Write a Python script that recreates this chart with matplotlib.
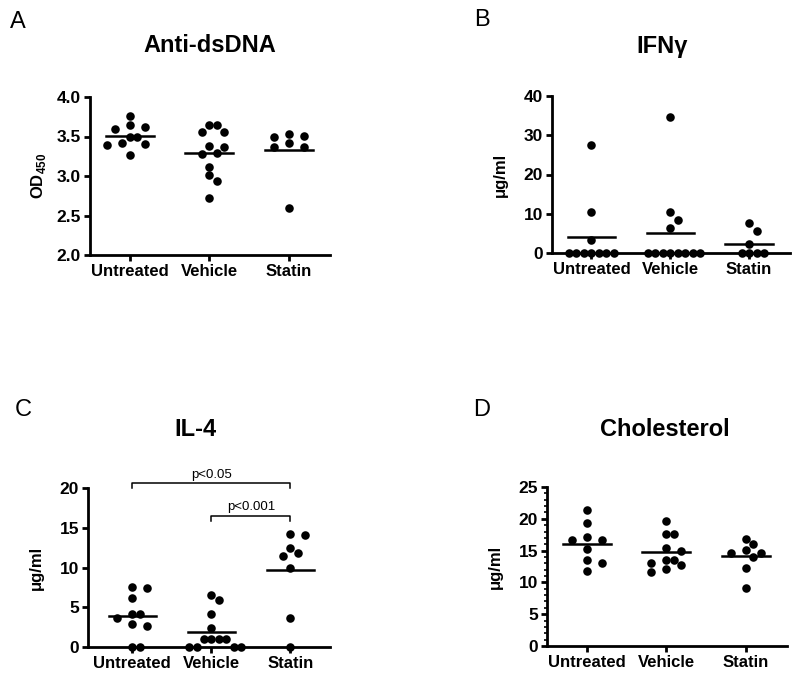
import numpy as np
import matplotlib.pyplot as plt
from matplotlib.ticker import MultipleLocator

plt.rcParams['font.family'] = ['Liberation Sans', 'DejaVu Sans']
plt.rcParams['font.weight'] = 'bold'
plt.rcParams['mathtext.fontset'] = 'custom'
plt.rcParams['mathtext.bf'] = 'Liberation Sans:bold'
plt.rcParams['mathtext.rm'] = 'Liberation Sans:bold'

groups = ['Untreated', 'Vehicle', 'Statin']

# A: anti-dsDNA (OD450)
dsdna_untreated = [3.76, 3.60, 3.62, 3.65, 3.49, 3.49, 3.42, 3.41, 3.39, 3.27]
dsdna_vehicle = [3.65, 3.65, 3.56, 3.56, 3.38, 3.37, 3.29, 3.28, 3.12, 3.01, 2.94, 2.72]
dsdna_statin = [3.50, 3.53, 3.51, 3.42, 3.37, 3.37, 2.60]

# B: IFN-gamma (ug/ml)
ifng_untreated = [27.4, 10.5, 3.2, 0, 0, 0, 0, 0, 0, 0]
ifng_vehicle = [34.7, 10.5, 8.5, 6.4, 0, 0, 0, 0, 0, 0, 0, 0]
ifng_statin = [7.6, 5.5, 2.2, 0, 0, 0, 0]

# C: IL-4 (ug/ml)
il4_untreated = [7.5, 7.4, 6.2, 4.2, 4.2, 3.7, 2.9, 2.6, 0, 0]
il4_vehicle = [6.6, 5.9, 4.1, 2.4, 1.05, 1.05, 1.05, 1.05, 0, 0, 0, 0]
il4_statin = [14.1, 14.2, 12.4, 11.8, 11.5, 10.0, 3.6, 0]

# D: cholesterol (ug/ml)
chol_untreated = [21.4, 19.4, 17.1, 16.7, 16.6, 15.2, 13.6, 13.1, 11.8]
chol_vehicle = [19.7, 17.6, 17.6, 15.4, 15.0, 13.6, 13.6, 13.1, 12.8, 12.1, 11.7]
chol_statin = [16.8, 16.1, 15.1, 14.7, 14.7, 14.0, 12.2, 9.1]

W, H = 800, 679
fig = plt.figure(figsize=(W / 100, H / 100), dpi=100)


def px_axes(left, top, right, bottom):
    return fig.add_axes([left / W, 1 - bottom / H, (right - left) / W, (bottom - top) / H])


def swarm_x(values, center, ppx, ppy, step=7.5, diam=8.5):
    # simple greedy beeswarm in pixel space; equal values just sit side by side
    values = np.asarray(values, dtype=float)
    xs = np.zeros(len(values))
    placed = []
    offsets = [0]
    for k in range(1, 10):
        offsets += [k, -k]
    for i in np.argsort(-values):
        y = values[i] * ppy
        for k in offsets:
            x = k * step
            ok = True
            for px, py in placed:
                d2 = (x - px) ** 2 + (y - py) ** 2
                lim = step * 0.98 if abs(y - py) < 0.5 else diam
                if d2 < lim ** 2:
                    ok = False
                    break
            if ok:
                break
        placed.append((x, y))
        xs[i] = center + x / ppx
    return xs


def panel(box, data, ylim, yticks, ylabel, minor=None):
    ax = px_axes(*box)
    left, top, right, bottom = box
    xlim = (-0.5, 2.52)
    ax.set_xlim(*xlim)
    ax.set_ylim(*ylim)
    ppx = (right - left) / (xlim[1] - xlim[0])
    ppy = (bottom - top) / (ylim[1] - ylim[0])
    for i, vals in enumerate(data):
        xs = swarm_x(np.array(vals) - ylim[0], i, ppx, ppy)
        ax.scatter(xs, vals, s=38, color='black', zorder=3, clip_on=False, linewidths=0)
        m = np.mean(vals)
        ax.plot([i - 0.3, i + 0.3], [m, m], color='black', lw=1.8, zorder=4, clip_on=False)
    for s in ['top', 'right']:
        ax.spines[s].set_visible(False)
    for s in ['left', 'bottom']:
        ax.spines[s].set_linewidth(2.0)
    ax.set_xticks(range(3))
    ax.set_xticklabels(groups, fontsize=12, fontweight='bold')
    ax.set_yticks(yticks)
    ax.tick_params(axis='x', which='major', length=4.5, width=2.0, labelsize=12, pad=2)
    ax.tick_params(axis='y', which='major', length=4.5, width=2.0, labelsize=12.5, pad=2)
    if minor:
        ax.yaxis.set_minor_locator(MultipleLocator(minor))
        ax.tick_params(axis='y', which='minor', length=2.5, width=1.2)
    ax.text(-0.215, 0.5, ylabel, transform=ax.transAxes, rotation=90,
            ha='center', va='center', fontsize=12, fontweight='bold')
    return ax


axA = panel((90, 97, 330, 255), [dsdna_untreated, dsdna_vehicle, dsdna_statin],
            (2.0, 4.0), [2.0, 2.5, 3.0, 3.5, 4.0], r'OD$_{\mathbf{450}}$')
axA.set_yticklabels(['2.0', '2.5', '3.0', '3.5', '4.0'])

axB = panel((552, 96, 790, 253), [ifng_untreated, ifng_vehicle, ifng_statin],
            (0, 40), [0, 10, 20, 30, 40], 'μg/ml')

axC = panel((88, 488, 330, 647), [il4_untreated, il4_vehicle, il4_statin],
            (0, 20), [0, 5, 10, 15, 20], 'μg/ml')
axC.set_xlim(-0.56, 2.5)

axD = panel((547, 487, 787, 646), [chol_untreated, chol_vehicle, chol_statin],
            (0, 25), [0, 5, 10, 15, 20, 25], 'μg/ml', minor=1)


# significance brackets on IL-4 panel
def bracket(ax, x0, x1, y, h, label):
    ax.plot([x0, x0, x1, x1], [y - h, y, y, y - h], color='black', lw=1.1, clip_on=False)
    ax.text((x0 + x1) / 2, y + 0.3, label, ha='center', va='bottom',
            fontsize=9.5, fontweight='normal')


bracket(axC, 0, 2, 20.6, 0.6, 'p<0.05')
bracket(axC, 1, 2, 16.5, 0.6, 'p<0.001')

# titles and panel letters
titles = [('Anti-dsDNA', 210, 46), ('IFNγ', 662, 47), ('IL-4', 195, 430), ('Cholesterol', 665, 429)]
for t, x, y in titles:
    fig.text(x / W, 1 - y / H, t, ha='center', va='center', fontsize=17, fontweight='bold')

letters = [('A', 18, 22), ('B', 482, 20), ('C', 23, 410), ('D', 482, 410)]
for t, x, y in letters:
    fig.text(x / W, 1 - y / H, t, ha='center', va='center', fontsize=17, fontweight='normal')

fig.savefig('out.png', dpi=100)
